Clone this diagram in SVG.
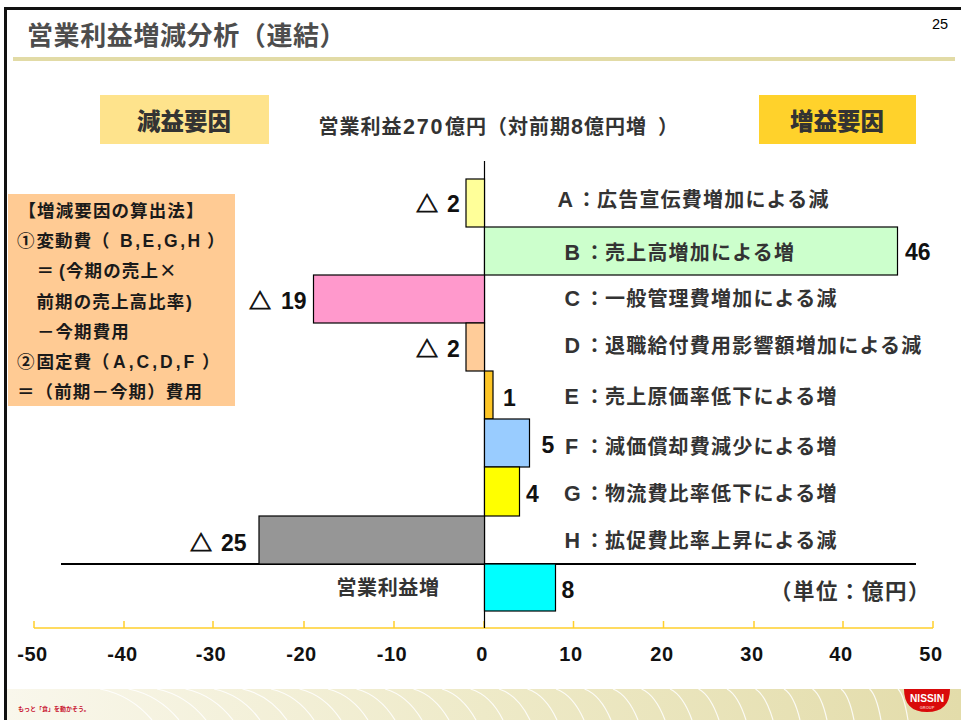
<svg xmlns="http://www.w3.org/2000/svg" width="961" height="720" viewBox="0 0 961 720">
<defs>
<linearGradient id="foot" x1="0" x2="1" y1="0" y2="0"><stop offset="0" stop-color="#f9f7ec"/><stop offset=".5" stop-color="#eeeac8"/><stop offset="1" stop-color="#e3dcaa"/></linearGradient>
</defs>
<style>
text{font-family:"Liberation Sans","Noto Sans CJK JP",sans-serif;font-weight:700;fill:#000}
.j{font-family:"Noto Sans CJK JP","Liberation Sans",sans-serif}
.lb{font-size:20px;fill:#333;letter-spacing:1.2px;font-family:"Noto Sans CJK JP",sans-serif}
.lat{font-family:"Liberation Sans",sans-serif;font-size:21.500px}
.val{font-size:23px;fill:#111}
.tri{font-family:"Noto Sans CJK JP",sans-serif;font-size:22px;stroke:#111;stroke-width:.8px}
.tick{font-size:20px;text-anchor:middle;fill:#111;letter-spacing:.6px}
.note{font-size:17.500px;fill:#1a1a1a;letter-spacing:1.1px;font-family:"Noto Sans CJK JP",sans-serif}
.nl{font-family:"Liberation Sans",sans-serif}
.big{font-size:23.500px;fill:#333;font-family:"Noto Sans CJK JP",sans-serif;font-weight:900}
.bar{stroke:#000;stroke-width:1.200}
.ax{stroke:#ffd02c;stroke-width:1.500;fill:none}
</style>
<rect width="961" height="720" fill="#fff"/>
<g id="frame">
<rect x="4" y="7" width="957" height="3" fill="#111"/>
<rect x="4" y="7" width="3" height="713" fill="#111"/>
<rect x="13" y="57" width="942" height="4" fill="#e2dba6"/>
<text class="j" x="27" y="45" style="font-size:26px;fill:#4d4d4d;letter-spacing:.6px">営業利益増減分析（連結）</text>
<text x="932" y="29" style="font-size:14.500px;font-weight:400">25</text>
</g>
<g id="footer">
<rect x="7" y="689" width="954" height="31" fill="url(#foot)"/>
<path fill="none" stroke="#fff" stroke-opacity=".85" stroke-width="1.200" d="M100 689q31 6 52 31M128.500 689q30 6 50.500 31M157 689q29 6 49 31M185.500 689q28 6 47.500 31M214 689q28 6 46 31M242.500 689q27 6 44.500 31M271 689q26 6 43 31M299.500 689q25 6 41.500 31M328 689q24 6 40 31M356.500 689q23 6 38.500 31M385 689q22 6 37 31M413.500 689q21 6 35.500 31M442 689q20 6 34 31M470.500 689q20 6 32.500 31M499 689q19 6 31 31M527.500 689q18 6 29.500 31M556 689q17 6 28 31M584.500 689q16 6 26.500 31M613 689q15 6 25 31M641.500 689q14 6 23.500 31M670 689q13 6 22 31M698.500 689q12 6 20.500 31M727 689q11 6 19 31M755.500 689q10 6 17.500 31M784 689q10 6 16 31M812.500 689q9 6 14.500 31M841 689q8 6 13 31M869.500 689q7 6 11.500 31M898 689q6 6 10 31"/>
<text class="j" x="18" y="711" style="font-size:6px;fill:#c8102e">もっと「食」を動かそう。</text>
<path d="M904 689h46q0 23-23 23t-23-23z" fill="#d90a0a"/>
<text x="910" y="702" textLength="34" lengthAdjust="spacingAndGlyphs" style="font-size:10.500px;fill:#fff">NISSIN</text>
<text x="927" y="708.500" style="font-size:4px;fill:#f4b0b0;text-anchor:middle">GROUP</text>
</g>
<g id="box-decrease"><rect x="100" y="95" width="169" height="49" fill="#fee38c"/><text class="big" x="137" y="130">減益要因</text></g>
<g id="box-increase"><rect x="759" y="95" width="157" height="49" fill="#ffd22b"/><text class="big" x="790" y="130">増益要因</text></g>
<g id="headline"><text class="j" y="134" style="font-size:20px;fill:#333;letter-spacing:1px"><tspan x="318.500">営業利益</tspan><tspan x="403" class="nl" style="font-size:21.500px;letter-spacing:1.800px">270</tspan><tspan x="445">億円（対前期</tspan><tspan x="571" class="nl" style="font-size:21.500px">8</tspan><tspan x="584">億円増</tspan><tspan x="658">）</tspan></text></g>
<g id="method">
<rect x="8" y="194" width="227" height="212" fill="#ffcb94"/>
<text class="note" x="18.500" y="216.500">【増減要因の算出法】</text>
<text class="note" y="247"><tspan x="17">①</tspan><tspan x="36.500">変動費</tspan><tspan x="92">（</tspan><tspan x="120" class="nl" style="letter-spacing:2.500px">B,E,G,H</tspan><tspan x="207">）</tspan></text>
<text class="note" y="277"><tspan x="36.500">＝</tspan><tspan x="59" class="nl">(</tspan><tspan x="66">今期の売上</tspan><tspan x="159">×</tspan></text>
<text class="note" y="308"><tspan x="36.500">前期の売上高比率</tspan><tspan x="186" class="nl">)</tspan></text>
<text class="note" y="338"><tspan x="37">－</tspan><tspan x="55.500">今期費用</tspan></text>
<text class="note" y="368"><tspan x="17">②</tspan><tspan x="36.500">固定費</tspan><tspan x="92">（</tspan><tspan x="113" class="nl" style="letter-spacing:3px">A,C,D,F</tspan><tspan x="202">）</tspan></text>
<text class="note" x="17" y="398">＝（前期－今期）費用</text>
</g>
<g id="connectors">
<path class="ax" d="M34 628H933M34 621v7M124 621v7M213 621v7M304 621v7M394 621v7M484 621v7M573.500 621v7M663.500 621v7M754 621v7M843 621v7M933 621v7"/>
<path d="M484.500 161V628" stroke="#000" stroke-width="1.200"/>
<path d="M61 564H916" stroke="#000" stroke-width="2"/>
</g>
<g id="bar-A"><rect class="bar" x="466" y="179" width="18.500" height="48" fill="#ffff99"/><text class="val" y="212"><tspan class="tri" x="416">△</tspan><tspan x="447">2</tspan></text><text class="lb" y="206.500"><tspan class="lat" x="557.500">A</tspan><tspan x="576.500">：</tspan><tspan x="597">広告宣伝費増加による減</tspan></text></g>
<g id="bar-B"><rect class="bar" x="484.500" y="227" width="413" height="48" fill="#ccffcc"/><text class="val" x="905" y="260">46</text><text class="lb" y="260"><tspan class="lat" x="564.500">B</tspan><tspan x="584.500">：</tspan><tspan x="605">売上高増加による増</tspan></text></g>
<g id="bar-C"><rect class="bar" x="313.500" y="275" width="171" height="48" fill="#ff99cc"/><text class="val" y="309"><tspan class="tri" x="249">△</tspan><tspan x="281">19</tspan></text><text class="lb" y="306"><tspan class="lat" x="564.500">C</tspan><tspan x="584.500">：</tspan><tspan x="605">一般管理費増加による減</tspan></text></g>
<g id="bar-D"><rect class="bar" x="466" y="323" width="18.500" height="48" fill="#ffcc99"/><text class="val" y="357"><tspan class="tri" x="416">△</tspan><tspan x="447">2</tspan></text><text class="lb" y="353"><tspan class="lat" x="564.500">D</tspan><tspan x="584.500">：</tspan><tspan x="605">退職給付費用影響額増加による減</tspan></text></g>
<g id="bar-E"><rect class="bar" x="484.500" y="371" width="8.500" height="48" fill="#fdc526"/><text class="val" x="503" y="406">1</text><text class="lb" y="404"><tspan class="lat" x="564.500">E</tspan><tspan x="584.500">：</tspan><tspan x="605">売上原価率低下による増</tspan></text></g>
<g id="bar-F"><rect class="bar" x="484.500" y="419" width="45" height="48" fill="#99ccff"/><text class="val" x="541.500" y="453">5</text><text class="lb" y="454"><tspan class="lat" x="565">F</tspan><tspan x="584.500">：</tspan><tspan x="605">減価償却費減少による増</tspan></text></g>
<g id="bar-G"><rect class="bar" x="484.500" y="467" width="35" height="49" fill="#ffff00"/><text class="val" x="526" y="501.500">4</text><text class="lb" y="501"><tspan class="lat" x="564">G</tspan><tspan x="584.500">：</tspan><tspan x="605">物流費比率低下による増</tspan></text></g>
<g id="bar-H"><rect class="bar" x="259" y="516" width="225.500" height="48" fill="#969696"/><text class="val" y="551"><tspan class="tri" x="190">△</tspan><tspan x="221">25</tspan></text><text class="lb" y="548"><tspan class="lat" x="564.500">H</tspan><tspan x="584.500">：</tspan><tspan x="605">拡促費比率上昇による減</tspan></text></g>
<g id="bar-total"><rect class="bar" x="484.500" y="564" width="71" height="47" fill="#00ffff"/><text class="val" x="561.500" y="598">8</text><text class="j" x="336.500" y="595" style="font-size:20px;fill:#333;letter-spacing:.6px">営業利益増</text><text class="j" x="770" y="598.500" style="font-size:21.500px;fill:#333;letter-spacing:1.500px">（単位：億円）</text></g>
<g id="axis-labels">
<text class="tick" x="32.500" y="660.500">-50</text><text class="tick" x="122.500" y="660.500">-40</text><text class="tick" x="211" y="660.500">-30</text><text class="tick" x="301.500" y="660.500">-20</text><text class="tick" x="392" y="660.500">-10</text><text class="tick" x="482" y="660.500">0</text><text class="tick" x="571" y="660.500">10</text><text class="tick" x="662" y="660.500">20</text><text class="tick" x="752" y="660.500">30</text><text class="tick" x="841" y="660.500">40</text><text class="tick" x="931" y="660.500">50</text>
</g>
</svg>
